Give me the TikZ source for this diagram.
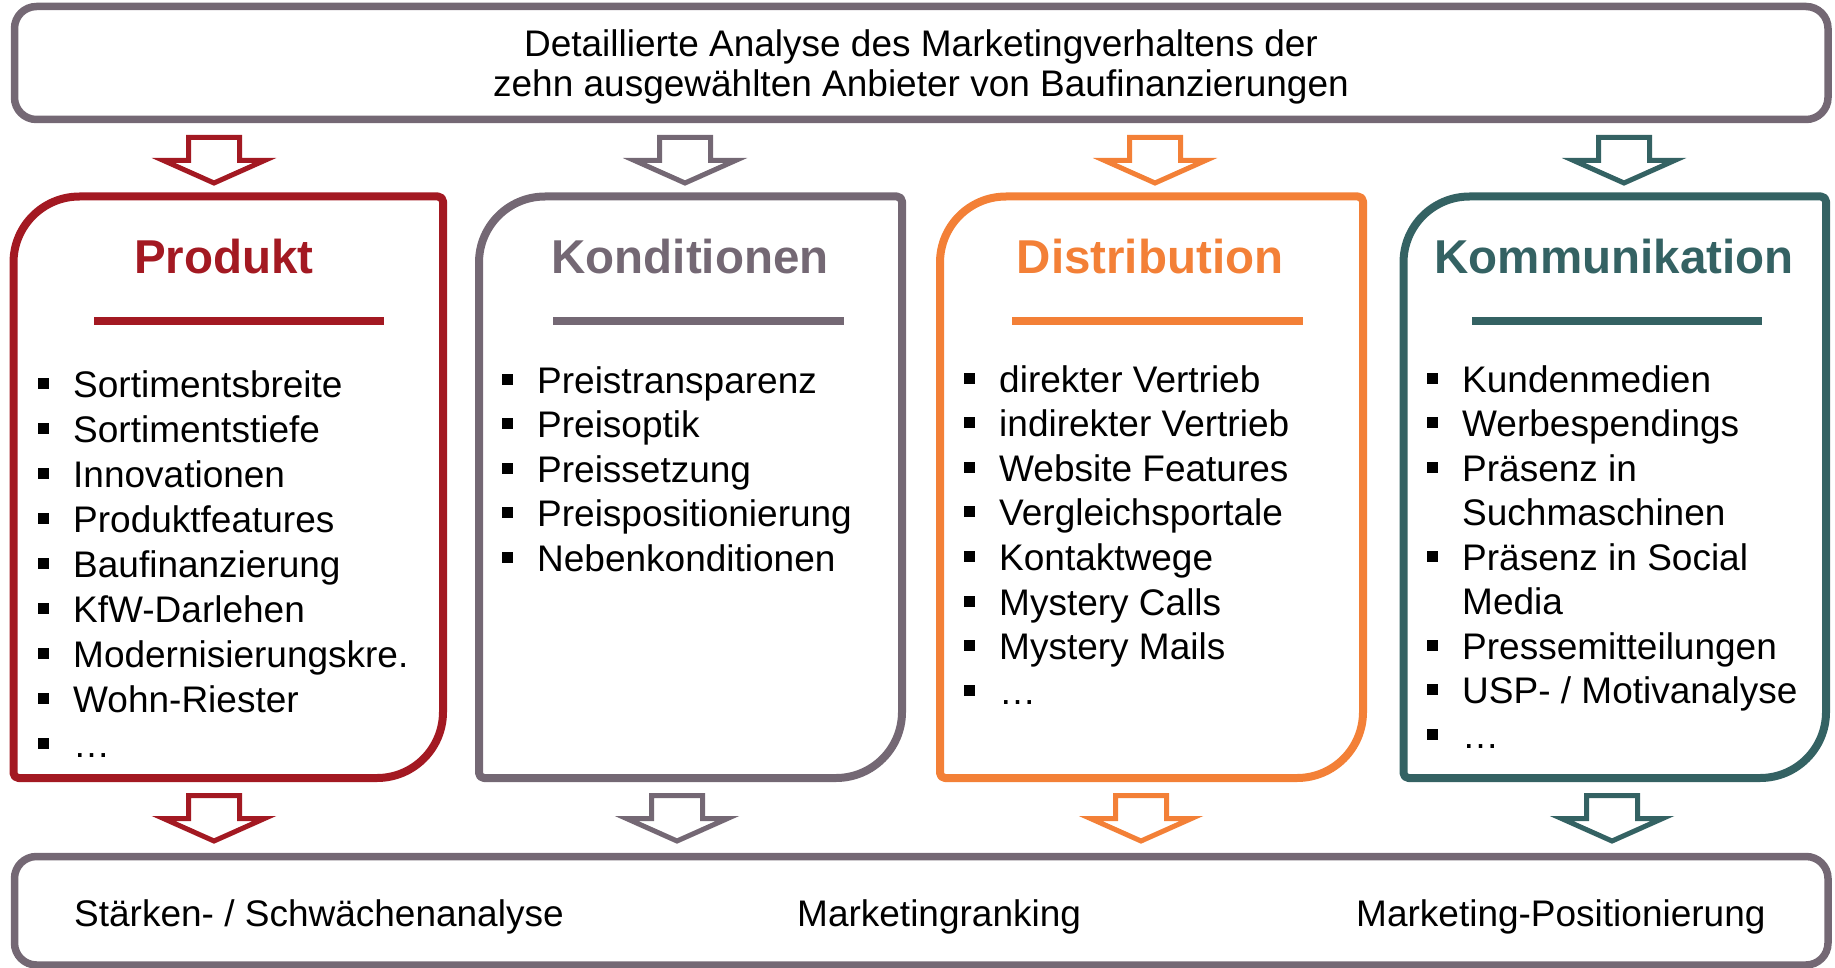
\documentclass[tikz,border=0pt]{standalone}
\usepackage{fontspec}
\setmainfont{Liberation Sans}

\definecolor{mgray}{RGB}{116,104,116}
\definecolor{mred}{RGB}{163,25,34}
\definecolor{morange}{RGB}{243,128,55}
\definecolor{mteal}{RGB}{52,98,99}

\tikzset{
  frame/.style={draw=mgray, line width=7.5pt, rounded corners=22pt, inner sep=0pt},
  maintext/.style={font=\fontsize{37}{40}\selectfont, inner sep=0pt},
  item/.style={font=\fontsize{37}{45}\selectfont, inner sep=0pt, anchor=base west},
  cardtitle/.style={font=\fontsize{47.5}{50}\selectfont\bfseries, inner sep=0pt, anchor=base},
  cardline/.style={line width=8pt, line join=round},
  titlerule/.style={line width=8pt},
  blockarrow/.pic={
    \draw[line width=5pt, fill=white, draw=#1]
      (-25.5,0) -- (25.5,0) -- (25.5,23) -- (50.5,23) -- (0,45.5)
      -- (-50.5,23) -- (-25.5,23) -- cycle;
  },
}

\begin{document}
\begin{tikzpicture}[x=1pt,y=-1pt]
\useasboundingbox (0,0) rectangle (1835,968);

% header and result frames
\node[frame, minimum width=1813.5pt, minimum height=113pt] (head) at (921.25,63) {};
\node[maintext, anchor=base] (head1) at (921,56.5) {Detaillierte Analyse des Marketingverhaltens der};
\node[maintext, anchor=base] (head2) at (921,96.5) {zehn ausgewählten Anbieter von Baufinanzierungen};

\node[frame, minimum width=1813.5pt, minimum height=108.5pt] (result) at (921.25,910.75) {};
\node[maintext, anchor=base west] (res1) at (74,926) {Stärken- / Schwächenanalyse};
\node[maintext, anchor=base west] (res2) at (797,926) {Marketingranking};
\node[maintext, anchor=base west] (res3) at (1356,926) {Marketing-Positionierung};

% the four cards: large rounding top left and bottom right
\def\T{196.5}
\def\B{778}
\foreach \L/\R/\c in {13.5/443/mred, 479/902/mgray, 940/1363/morange, 1403.5/1826/mteal}{
  \draw[cardline, draw=\c]
    ({\L+66},\T) -- ({\R-5},\T)
    .. controls ({\R-2.24},\T) and (\R,{\T+2.24}) .. (\R,{\T+5})
    -- (\R,{\B-66})
    .. controls (\R,{\B-29.55}) and ({\R-29.55},\B) .. ({\R-66},\B)
    -- ({\L+5},\B)
    .. controls ({\L+2.24},\B) and (\L,{\B-2.24}) .. (\L,{\B-5})
    -- (\L,{\T+66})
    .. controls (\L,{\T+29.55}) and ({\L+29.55},\T) .. ({\L+66},\T)
    -- cycle;
}

% card titles and rules
\node[cardtitle, text=mred] (t1) at (224,273) {Produkt};
\node[cardtitle, text=mgray] (t2) at (690,273) {Konditionen};
\node[cardtitle, text=morange] (t3) at (1150,273) {Distribution};
\node[cardtitle, text=mteal] (t4) at (1614,273) {Kommunikation};
\draw[titlerule, mred] (94,321) -- (384,321);
\draw[titlerule, mgray] (553,321) -- (844,321);
\draw[titlerule, morange] (1012,321) -- (1303,321);
\draw[titlerule, mteal] (1472,321) -- (1762,321);

% bullet lists
\foreach \t [count=\i] in {Sortimentsbreite, Sortimentstiefe, Innovationen,
    Produktfeatures, Baufinanzierung, KfW-Darlehen, Modernisierungskre.,
    Wohn-Riester, …}{
  \node[item] (p\i) at (73,{397+45*(\i-1)}) {\t};
  \fill (38,{397+45*(\i-1)-19.5}) rectangle +(11,11);
}
\foreach \t [count=\i] in {Preistransparenz, Preisoptik, Preissetzung,
    Preispositionierung, Nebenkonditionen}{
  \node[item] (k\i) at (537,{393+44.6*(\i-1)}) {\t};
  \fill (502,{393+44.6*(\i-1)-19.5}) rectangle +(11,11);
}
\foreach \t [count=\i] in {direkter Vertrieb, indirekter Vertrieb,
    Website Features, Vergleichsportale, Kontaktwege, Mystery Calls,
    Mystery Mails, …}{
  \node[item] (d\i) at (999,{392+44.6*(\i-1)}) {\t};
  \fill (964,{392+44.6*(\i-1)-19.5}) rectangle +(11,11);
}
\foreach \t/\b [count=\i] in {Kundenmedien/1, Werbespendings/1, Präsenz in/1,
    Suchmaschinen/0, Präsenz in Social/1, Media/0, Pressemitteilungen/1,
    {USP- / Motivanalyse}/1, …/1}{
  \node[item] (m\i) at (1462,{392+44.5*(\i-1)}) {\t};
  \ifnum\b=1
    \fill (1427,{392+44.5*(\i-1)-19.5}) rectangle +(11,11);
  \fi
}

% block arrows into and out of the cards
\pic (in1) at (214,137.5) {blockarrow=mred};
\pic (in2) at (685,137.5) {blockarrow=mgray};
\pic (in3) at (1155,137.5) {blockarrow=morange};
\pic (in4) at (1624,137.5) {blockarrow=mteal};
\pic (out1) at (214,795.5) {blockarrow=mred};
\pic (out2) at (677,795.5) {blockarrow=mgray};
\pic (out3) at (1141,795.5) {blockarrow=morange};
\pic (out4) at (1612,795.5) {blockarrow=mteal};
\end{tikzpicture}
\end{document}
